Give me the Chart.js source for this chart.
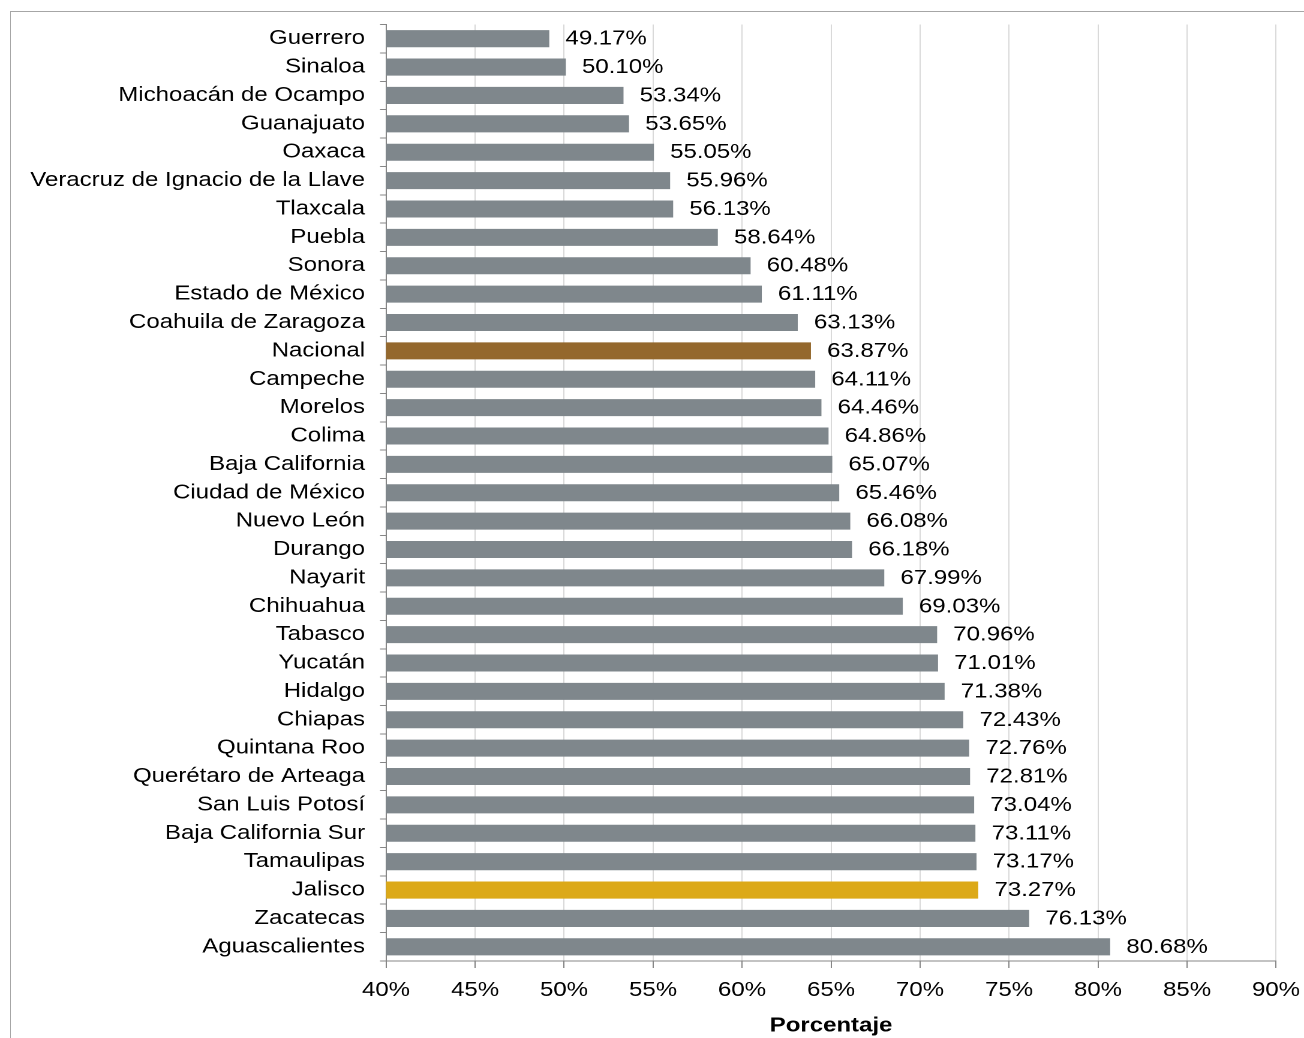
<!DOCTYPE html>
<html>
<head>
<meta charset="utf-8">
<script src="https://cdn.jsdelivr.net/npm/chart.js@4.4.1/dist/chart.umd.min.js"></script>
<style>
  body { margin: 0; background: #fff; overflow: hidden; }
  #frame { position: absolute; left: 10px; top: 11px; width: 1400px; height: 1100px;
           border-left: 1px solid #a6a6a6; border-top: 1px solid #a6a6a6; }
  #chart { position: absolute; left: 0; top: 0; }
</style>
</head>
<body>
<div id="frame"></div>
<canvas id="chart" width="1087" height="1038" style="width:1304px;height:1038px"></canvas>
<script>
const estados = ['Guerrero', 'Sinaloa', 'Michoacán de Ocampo', 'Guanajuato', 'Oaxaca',
    'Veracruz de Ignacio de la Llave', 'Tlaxcala', 'Puebla', 'Sonora', 'Estado de México',
    'Coahuila de Zaragoza', 'Nacional', 'Campeche', 'Morelos', 'Colima', 'Baja California',
    'Ciudad de México', 'Nuevo León', 'Durango', 'Nayarit', 'Chihuahua', 'Tabasco', 'Yucatán',
    'Hidalgo', 'Chiapas', 'Quintana Roo', 'Querétaro de Arteaga', 'San Luis Potosí',
    'Baja California Sur', 'Tamaulipas', 'Jalisco', 'Zacatecas', 'Aguascalientes'];
const porcentajes = [49.17, 50.10, 53.34, 53.65, 55.05, 55.96, 56.13, 58.64, 60.48, 61.11,
    63.13, 63.87, 64.11, 64.46, 64.86, 65.07, 65.46, 66.08, 66.18, 67.99, 69.03, 70.96, 71.01,
    71.38, 72.43, 72.76, 72.81, 73.04, 73.11, 73.17, 73.27, 76.13, 80.68];
const ejeTicks = [40, 45, 50, 55, 60, 65, 70, 75, 80, 85, 90];

const gris = '#7f878c';
const colores = estados.map(e => e === 'Nacional' ? '#94682d' : (e === 'Jalisco' ? '#dca918' : gris));

Chart.defaults.font.family = '"Liberation Sans", Arial, sans-serif';
Chart.defaults.font.size = 20;
Chart.defaults.color = '#000';

// labels at the end of each bar
const valueLabels = {
    id: 'valueLabels',
    afterDatasetsDraw(chart) {
        const ctx = chart.ctx;
        const meta = chart.getDatasetMeta(0);
        ctx.save();
        ctx.font = '20px "Liberation Sans", Arial, sans-serif';
        ctx.fillStyle = '#000';
        ctx.textAlign = 'left';
        ctx.textBaseline = 'middle';
        meta.data.forEach((bar, i) => {
            ctx.fillText(porcentajes[i].toFixed(2) + '%', bar.x + 13.5, bar.y + 0.5);
        });
        ctx.restore();
    }
};

new Chart(document.getElementById('chart'), {
    type: 'bar',
    data: {
        labels: estados,
        datasets: [{
            data: porcentajes,
            backgroundColor: colores,
            barPercentage: 0.6,
            categoryPercentage: 1
        }]
    },
    options: {
        indexAxis: 'y',
        responsive: false,
        devicePixelRatio: 2,
        animation: false,
        layout: { padding: { top: 21.3, right: 23.3, bottom: 0, left: 0 } },
        plugins: { legend: { display: false }, tooltip: { enabled: false } },
        scales: {
            x: {
                min: 40,
                max: 90,
                afterBuildTicks: scale => { scale.ticks = ejeTicks.map(v => ({ value: v })); },
                afterFit: scale => {
                    scale.height = 77;
                    scale.paddingLeft = 0;
                    scale.paddingRight = 0;
                },
                ticks: {
                    padding: 10.5,
                    callback: v => v + '%'
                },
                grid: {
                    color: '#d9d9d9',
                    tickColor: '#868686',
                    tickLength: 7
                },
                border: { color: '#868686' },
                title: {
                    display: true,
                    text: 'Porcentaje',
                    font: { weight: 'bold', size: 20 },
                    padding: { top: 0, bottom: 0 }
                }
            },
            y: {
                afterFit: scale => { scale.width = 321.8; },
                ticks: { padding: 12.5 },
                grid: {
                    drawOnChartArea: false,
                    color: '#868686',
                    tickLength: 5
                },
                border: { color: '#868686' }
            }
        }
    },
    plugins: [valueLabels]
});
</script>
</body>
</html>
